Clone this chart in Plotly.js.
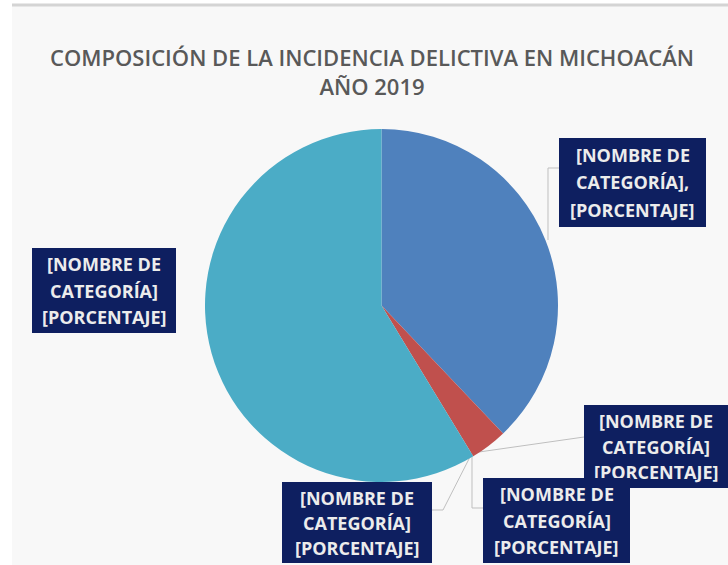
<!DOCTYPE html>
<html>
<head>
<meta charset="utf-8">
<script src="https://cdn.plot.ly/plotly-3.0.1.min.js"></script>
<style>html,body{margin:0;padding:0;background:#fff;}#chart{width:728px;height:565px;}</style>
</head>
<body>
<div id="chart"></div>
<script>
// ---- data ----
const categories = ["Categoría 1", "Categoría 2", "Categoría 3", "Categoría 4", "Categoría 5"];
const values = [37.9, 3.4, 0, 0, 58.7];
const sliceColors = ["#4F81BD", "#C0504D", "#9BBB59", "#8064A2", "#4BACC6"];
const titleText = "COMPOSICIÓN DE LA INCIDENCIA DELICTIVA EN MICHOACÁN<br>AÑO 2019";
const labelLines = [
  ["[NOMBRE DE", "CATEGORÍA],", "[PORCENTAJE]"],
  ["[NOMBRE DE", "CATEGORÍA]", "[PORCENTAJE]"],
  ["[NOMBRE DE", "CATEGORÍA]", "[PORCENTAJE]"],
  ["[NOMBRE DE", "CATEGORÍA]", "[PORCENTAJE]"],
  ["[NOMBRE DE", "CATEGORÍA]", "[PORCENTAJE]"]
];

// ---- layout helpers (pixel -> paper) ----
const W = 728, H = 565;
const px = x => x / W;
const py = y => 1 - y / H;

// label boxes [x0, y0, x1, y1] in pixels, drawn in this order
const boxes = [
  [559, 138, 706, 227],
  [32, 248, 176, 333],
  [584, 405, 728, 488],
  [483, 478, 630, 563],
  [282, 482, 432, 563]
];

const annotations = [];
boxes.forEach((b, i) => {
  // box background
  annotations.push({
    xref: "paper", yref: "paper",
    x: px((b[0] + b[2]) / 2), y: py((b[1] + b[3]) / 2),
    xanchor: "center", yanchor: "middle",
    text: " ", showarrow: false,
    width: b[2] - b[0], height: b[3] - b[1],
    bgcolor: "#0E1F60", borderpad: 0, borderwidth: 0,
    font: {size: 1, color: "#0E1F60"}
  });
  const h = (b[3] - b[1] - 6) / 3;
  labelLines[i].forEach((t, j) => {
    annotations.push({
      xref: "paper", yref: "paper",
      x: px((b[0] + b[2]) / 2), y: py(b[1] + 3 + h * (j + 0.5)),
      xanchor: "center", yanchor: "middle",
      text: t, showarrow: false,
      font: {family: "Open Sans, sans-serif", size: 18, color: "#ECECEC", weight: "bold"}
    });
  });
});

const lineStyle = {color: "#BFBFBF", width: 1};
const leader = pts => ({
  type: "path", xref: "paper", yref: "paper", layer: "below",
  path: pts.map((p, k) => (k ? "L" : "M") + px(p[0]) + "," + py(p[1])).join(" "),
  line: lineStyle
});

const shapes = [
  {type: "rect", xref: "paper", yref: "paper", x0: px(12), x1: 1, y0: 0, y1: py(6),
   fillcolor: "#F8F8F8", line: {width: 0}, layer: "below"},
  {type: "line", xref: "paper", yref: "paper", x0: px(12), x1: 1, y0: py(5), y1: py(5),
   line: {color: "#D4D4D4", width: 3}, layer: "below"},
  leader([[548, 240], [548, 168], [559, 168]]),
  leader([[472, 453], [584, 437]]),
  leader([[472, 453], [472, 508], [483, 508]]),
  leader([[472, 453], [443, 510], [432, 510]])
];

const data = [{
  type: "pie",
  labels: categories,
  values: values,
  sort: false,
  direction: "clockwise",
  rotation: 0,
  textinfo: "none",
  hoverinfo: "label+percent",
  marker: {colors: sliceColors, line: {width: 0}},
  domain: {x: [px(205), px(558)], y: [py(482), py(129)]},
  showlegend: false
}];

const layout = {
  width: W, height: H,
  margin: {l: 0, r: 0, t: 0, b: 0},
  paper_bgcolor: "#FFFFFF",
  title: {
    text: titleText,
    x: px(372), xanchor: "center",
    y: py(66), yanchor: "middle",
    font: {family: "Open Sans, sans-serif", size: 22, color: "#595959", weight: 600}
  },
  showlegend: false,
  shapes: shapes,
  annotations: annotations
};

Plotly.newPlot("chart", data, layout, {displayModeBar: false, staticPlot: true});
</script>
</body>
</html>
